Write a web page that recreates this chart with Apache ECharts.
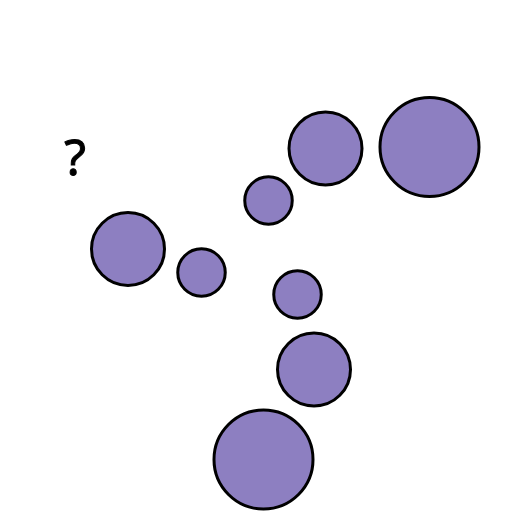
<!DOCTYPE html>
<html><head><meta charset="utf-8">
<script src="https://cdn.jsdelivr.net/npm/echarts@6/dist/echarts.min.js"></script>
<style>html,body{margin:0;padding:0;background:#fff}#c{width:512px;height:512px}</style>
</head><body><div id="c"></div>
<script>
// circle centres (x, y measured from top-left) and diameters
const xs = [128, 201.5, 268.5, 325.5, 429.5, 297.5, 314, 263.5];
const ys = [249, 272.5, 200.5, 148.5, 147, 294.5, 369.5, 459.5];
const sizes = [73, 47.5, 47.5, 73, 99, 47.5, 73, 99];
const questionLabel = ['?'];
const questionPos = [[75, 161]];

const chart = echarts.init(document.getElementById('c'), null, {renderer: 'canvas'});
chart.setOption({
  animation: false,
  backgroundColor: '#ffffff',
  grid: {left: 0, right: 0, top: 0, bottom: 0},
  xAxis: {type: 'value', min: 0, max: 512, show: false},
  yAxis: {type: 'value', min: 0, max: 512, inverse: true, show: false},
  series: [
    {
      type: 'scatter',
      data: xs.map((x, i) => [x, ys[i], sizes[i]]),
      symbolSize: d => d[2],
      itemStyle: {color: '#8d7fc1', borderColor: '#000', borderWidth: 3, opacity: 1}
    },
    {
      type: 'scatter',
      data: questionPos,
      symbolSize: 1,
      itemStyle: {color: 'transparent'},
      label: {
        show: true, position: 'inside',
        formatter: () => questionLabel[0],
        fontSize: 50, fontWeight: 'normal', color: '#000000', opacity: 1,
        textBorderColor: '#000000', textBorderWidth: 1,
        fontFamily: 'Noto Sans'
      }
    }
  ]
});
</script></body></html>
